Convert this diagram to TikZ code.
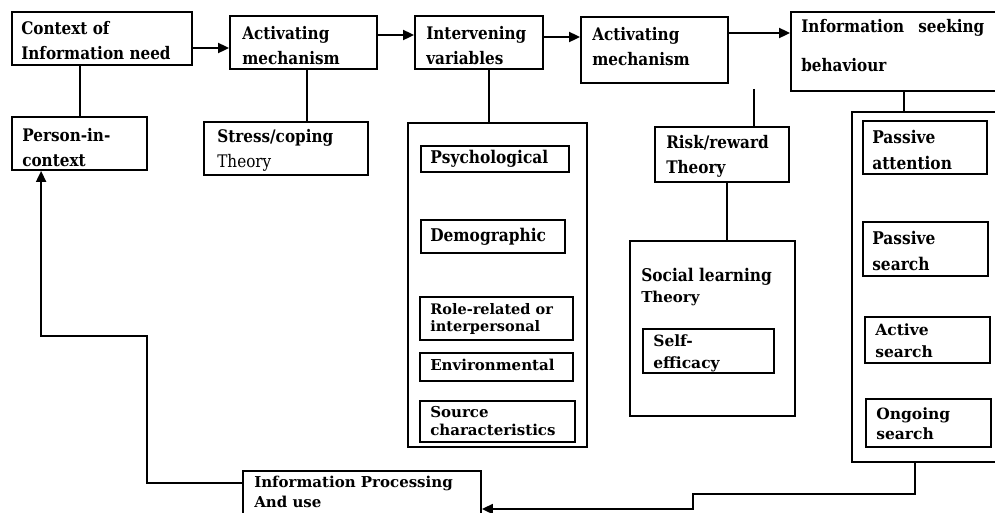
\documentclass[tikz,border=0pt]{standalone}
\usepackage{fontspec}
\setmainfont{DejaVu Serif}[FakeStretch=0.88]
\newfontfamily\widefont{DejaVu Serif}
\usetikzlibrary{arrows.meta,fit}
\begin{document}
\begin{tikzpicture}[x=1pt,y=-1pt,
  frame/.style={draw, line width=1.8pt, inner sep=0pt, fit={#1}},
  link/.style={line width=1.8pt},
  flow/.style={line width=1.8pt, -{Triangle[length=11pt,width=10pt]}},
  big/.style={align=left, inner sep=0pt, font=\bfseries\fontsize{17.3}{25}\selectfont},
  heavy/.style={align=left, inner sep=0pt, font=\bfseries\fontsize{17.5}{26}\selectfont},
  small/.style={align=left, inner sep=0pt, font=\widefont\bfseries\fontsize{15}{18}\selectfont}]
\useasboundingbox (0,0) rectangle (995,512);
\clip (0,0) rectangle (995,512);

% top row
\node[frame={(12,12) (192,65)}] (ctx) {};
\node[frame={(230,16) (377,69)}] (act1) {};
\node[frame={(415,16) (543,69)}] (inter) {};
\node[frame={(581,17) (728,83)}] (act2) {};
\node[frame={(791,12) (1005,91)}] (seek) {};

\node[big, anchor=west] (ctxT) at ([xshift=10pt,yshift=-2pt]ctx.west) {Context of\\Information need};
\node[big, anchor=west] (act1T) at ([xshift=13pt,yshift=-3pt]act1.west) {Activating\\mechanism};
\node[big, anchor=west] (interT) at ([xshift=12pt,yshift=-3pt]inter.west) {Intervening\\variables};
\node[big, anchor=west] (act2T) at ([xshift=12pt,yshift=3pt]act2.west) {Activating\\mechanism};
\node[big, anchor=north west, font=\bfseries\fontsize{17.3}{39}\selectfont] (seekT) at ([xshift=11pt,yshift=-8pt]seek.north west) {\makebox[183pt][s]{Information seeking}\\behaviour};

% second row
\node[frame={(12,117) (147,170)}] (pic) {};
\node[frame={(204,122) (368,175)}] (stress) {};
\node[frame={(655,127) (789,182)}] (risk) {};
\node[big, anchor=west] (picT) at ([xshift=11pt,yshift=-4pt]pic.west) {Person-in-\\context};
\node[big, anchor=west] (stressT) at ([xshift=14pt,yshift=-2pt]stress.west) {Stress/coping\\\mdseries Theory};
\node[big, anchor=west] (riskT) at ([xshift=12pt,yshift=-2pt]risk.west) {Risk/reward\\Theory};

% intervening variables
\node[frame={(408,123) (587,447)}] (vars) {};
\node[frame={(421,146) (569,172)}] (psy) {};
\node[frame={(421,220) (565,253)}] (demo) {};
\node[frame={(420,297) (573,340)}] (role) {};
\node[frame={(420,353) (573,381)}] (env) {};
\node[frame={(420,401) (575,442)}] (src) {};
\node[heavy, anchor=west] (psyT) at ([xshift=10pt]psy.west) {Psychological};
\node[heavy, anchor=west] (demoT) at ([xshift=10pt]demo.west) {Demographic};
\node[small, anchor=west, font=\widefont\bfseries\fontsize{14.5}{17}\selectfont] (roleT) at ([xshift=11pt]role.west) {Role-related or\\interpersonal};
\node[small, anchor=west] (envT) at ([xshift=11pt,yshift=2pt]env.west) {Environmental};
\node[small, anchor=west] (srcT) at ([xshift=11pt]src.west) {Source\\characteristics};

% social learning
\node[frame={(630,241) (795,416)}] (social) {};
\node[frame={(643,329) (774,373)}] (self) {};
\node[heavy, anchor=base west] (socialT) at ([xshift=12pt,yshift=-41pt]social.north west) {Social learning};
\node[small, anchor=base west] (socialT2) at ([xshift=12pt,yshift=-62pt]social.north west) {Theory};
\node[small, anchor=west, font=\widefont\bfseries\fontsize{15.5}{22}\selectfont] (selfT) at ([xshift=11pt,yshift=-2pt]self.west) {Self-\\efficacy};

% modes of information seeking
\node[frame={(852,112) (1005,462)}] (modes) {};
\node[frame={(863,121) (987,174)}] (patt) {};
\node[frame={(863,222) (988,276)}] (psearch) {};
\node[frame={(865,317) (990,363)}] (asearch) {};
\node[frame={(866,399) (991,447)}] (osearch) {};
\node[heavy, anchor=west] (pattT) at ([xshift=10pt,yshift=-2pt]patt.west) {Passive\\attention};
\node[heavy, anchor=west] (psearchT) at ([xshift=10pt,yshift=-2pt]psearch.west) {Passive\\search};
\node[small, anchor=west, font=\widefont\bfseries\fontsize{15.5}{22}\selectfont] (asearchT) at ([xshift=11pt,yshift=-1pt]asearch.west) {Active\\search};
\node[small, anchor=west, font=\widefont\bfseries\fontsize{15.5}{20}\selectfont] (osearchT) at ([xshift=11pt,yshift=-1pt]osearch.west) {Ongoing\\search};

% information processing
\node[frame={(243,471) (481,525)}] (proc) {};
\node[small, anchor=north west, font=\widefont\bfseries\fontsize{15}{20}\selectfont] (procT) at ([xshift=12pt,yshift=-6pt]proc.north west) {Information Processing\\And use};

% forward arrows along the top
\coordinate (o1) at ([yshift=-9.5pt]ctx.east);
\draw[flow] (o1) -- (o1 -| act1.west);
\coordinate (o2) at ([yshift=7.5pt]act1.east);
\draw[flow] (o2) -- (o2 -| inter.west);
\coordinate (o3) at ([yshift=5.5pt]inter.east);
\draw[flow] (o3) -- (o3 -| act2.west);
\coordinate (o4) at ([yshift=17pt]act2.east);
\draw[flow] (o4) -- (o4 -| seek.west);

% vertical links to the theories and variables
\coordinate (v1) at ([xshift=69pt]ctx.south west);
\draw[link] (v1) -- (v1 |- pic.north);
\coordinate (v2) at ([xshift=78pt]act1.south west);
\draw[link] (v2) -- (v2 |- stress.north);
\coordinate (v3) at ([xshift=75pt]inter.south west);
\draw[link] (v3) -- (v3 |- vars.north);
\coordinate (v4) at ([xshift=174pt,yshift=-5pt]act2.south west);
\draw[link] (v4) -- (v4 |- risk.north);
\coordinate (v5) at ([xshift=73pt]risk.south west);
\draw[link] (v5) -- (v5 |- social.north);
\coordinate (v6) at ([xshift=114pt]seek.south west);
\draw[link] (v6) -- (v6 |- modes.north);

% feedback loop
\coordinate (m1) at ([xshift=64pt]modes.south west);
\coordinate (m2) at ([xshift=-222pt,yshift=-31pt]m1);
\coordinate (pin) at ([yshift=-11pt]proc.east);
\draw[flow] (m1) |- (m2) |- (pin);
\coordinate (pout) at ([yshift=15pt]proc.west);
\coordinate (pbend) at ([xshift=-95pt,yshift=147pt]pout);
\coordinate (pup) at ([xshift=30pt]pic.south west);
\draw[flow] (pout) -| (pbend) -| (pup);
\end{tikzpicture}
\end{document}
